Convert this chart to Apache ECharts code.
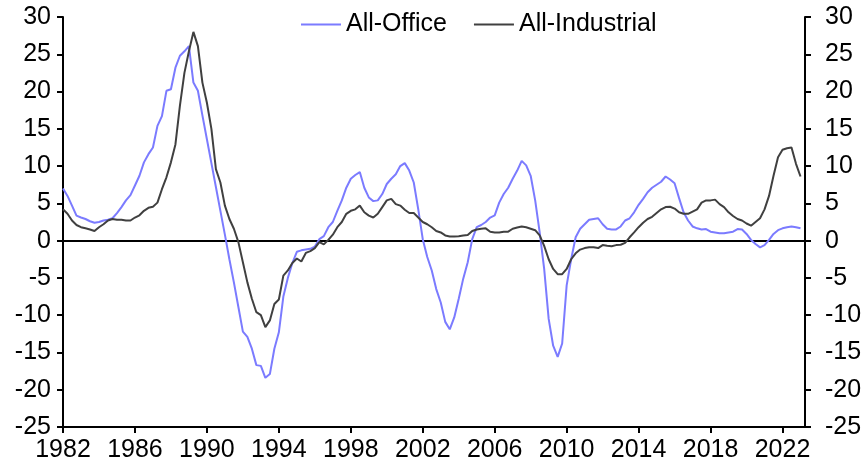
<!DOCTYPE html>
<html>
<head>
<meta charset="utf-8">
<script src="https://cdn.jsdelivr.net/npm/echarts@6/dist/echarts.min.js"></script>
<style>html,body{margin:0;padding:0;background:#fff}#c{width:866px;height:471px}</style>
</head>
<body>
<div id="c"></div>
<script>
// Quarterly data, first point 1982 Q1, last point 2023 Q1
const startYear = 1982;
const officeValues = [
  7.0, 6.0, 4.7, 3.35,
  3.1, 2.9, 2.6, 2.4,
  2.5, 2.7, 2.8, 3.0,
  3.7, 4.5, 5.4, 6.1,
  7.4, 8.7, 10.5, 11.6,
  12.5, 15.4, 16.7, 20.1,
  20.3, 23.2, 24.8, 25.4,
  26.1, 21.2, 20.1, 16.8,
  13.6, 10.4, 7.2, 4.0,
  0.8, -2.5, -5.6, -8.9,
  -12.2, -12.9, -14.5, -16.7,
  -16.8, -18.4, -17.9, -14.5,
  -12.3, -7.5, -5.0, -3.0,
  -1.5, -1.3, -1.2, -1.1,
  -0.8, 0.2, 0.6, 1.8,
  2.5, 4.0, 5.4, 7.1,
  8.3, 8.8, 9.2, 7.1,
  5.8, 5.3, 5.4, 6.25,
  7.6, 8.3, 8.9, 10.0,
  10.4, 9.4, 7.8, 4.2,
  0.2, -2.2, -4.0, -6.5,
  -8.3, -10.9, -11.9, -10.3,
  -7.8, -5.1, -2.9, 0.2,
  1.8, 2.1, 2.5, 3.1,
  3.4, 5.1, 6.25, 7.1,
  8.3, 9.4, 10.7, 10.1,
  8.7, 5.4, 1.1, -3.8,
  -10.5, -14.1, -15.6, -13.8,
  -6.0, -2.5, 0.45, 1.6,
  2.2, 2.8, 2.9, 3.0,
  2.2, 1.6, 1.5, 1.5,
  1.9, 2.7, 3.0, 3.8,
  4.8, 5.6, 6.5, 7.1,
  7.5, 7.9, 8.6, 8.2,
  7.7, 5.7, 3.8, 2.7,
  1.9, 1.65, 1.5, 1.55,
  1.2, 1.1, 1.0, 1.0,
  1.1, 1.2, 1.55, 1.5,
  0.9, 0.1, -0.45, -0.9,
  -0.6, 0.1, 0.9, 1.4,
  1.65, 1.8, 1.9, 1.8,
  1.65
];
const industrialValues = [
  4.2, 3.6, 2.7, 2.1,
  1.8, 1.65, 1.5, 1.3,
  1.8, 2.2, 2.7, 2.9,
  2.8, 2.8, 2.7, 2.7,
  3.1, 3.4, 4.0, 4.4,
  4.55, 5.1, 6.9, 8.5,
  10.5, 12.9, 18.1, 22.5,
  25.4, 28.0, 26.1, 21.2,
  18.5, 15.0, 9.6, 7.8,
  4.7, 2.9, 1.6, -0.2,
  -2.9, -5.6, -7.8, -9.6,
  -10.0, -11.6, -10.7, -8.5,
  -7.9, -4.7, -4.0, -3.0,
  -2.4, -2.8, -1.65, -1.4,
  -1.0, -0.2, -0.5, 0.1,
  0.8, 1.8, 2.5, 3.6,
  4.0, 4.2, 4.7, 3.8,
  3.35, 3.1, 3.6, 4.5,
  5.4, 5.6, 4.9, 4.7,
  4.15, 3.7, 3.7, 3.1,
  2.5, 2.2, 1.8, 1.3,
  1.1, 0.7, 0.55, 0.55,
  0.6, 0.7, 0.75, 1.3,
  1.5, 1.6, 1.65, 1.2,
  1.1, 1.1, 1.2, 1.2,
  1.6, 1.75, 1.9, 1.8,
  1.6, 1.4, 0.7, -0.7,
  -2.5, -3.8, -4.5, -4.5,
  -3.8, -2.5, -1.7, -1.2,
  -1.0, -0.9, -0.9, -1.0,
  -0.6, -0.7, -0.75, -0.6,
  -0.55, -0.3, 0.45, 1.1,
  1.8, 2.4, 2.9, 3.2,
  3.7, 4.2, 4.5, 4.55,
  4.3, 3.8, 3.6, 3.6,
  3.9, 4.2, 5.1, 5.4,
  5.4, 5.5, 4.9, 4.5,
  3.8, 3.3, 2.9, 2.7,
  2.3, 2.0, 2.5, 3.0,
  4.2, 6.0, 8.7, 11.2,
  12.2, 12.4, 12.5, 10.3,
  8.6
];
const xTickLabels = [1982, 1986, 1990, 1994, 1998, 2002, 2006, 2010, 2014, 2018, 2022];
const yTickLabels = [-25, -20, -15, -10, -5, 0, 5, 10, 15, 20, 25, 30];
const seriesNames = ['All-Office', 'All-Industrial'];

const toPairs = vals => vals.map((v, i) => [startYear + i / 4, v]);
const FONT = 'Arial, "Liberation Sans", sans-serif';
const black = '#000';

function yAxis(pos) {
  return {
    type: 'value', position: pos,
    min: yTickLabels[0], max: yTickLabels[yTickLabels.length - 1], interval: 5,
    axisLine: {show: true, lineStyle: {color: black, width: 2}},
    axisTick: {show: true, length: 6, lineStyle: {color: black, width: 2}},
    axisLabel: {fontSize: 25, color: black, fontFamily: FONT, margin: pos === 'left' ? 12 : 20,
                align: pos === 'left' ? 'right' : 'left'},
    splitLine: {show: false}
  };
}

const chart = echarts.init(document.getElementById('c'), null, {renderer: 'canvas'});
chart.setOption({
  animation: false,
  backgroundColor: '#fff',
  legend: {
    top: 7, left: 296, itemWidth: 40, itemHeight: 2, itemGap: 27, icon: 'rect',
    textStyle: {fontSize: 25, color: black, fontFamily: FONT},
    data: seriesNames
  },
  grid: {left: 63, right: 61, top: 17, bottom: 44, containLabel: false},
  xAxis: {
    type: 'value', min: 1982, max: 2023.25,
    axisLine: {show: true, onZero: false, lineStyle: {color: black, width: 2}},
    axisTick: {show: true, length: 6, customValues: xTickLabels, lineStyle: {color: black, width: 2}},
    axisLabel: {customValues: xTickLabels, fontSize: 25, color: black, fontFamily: FONT, margin: 11,
                formatter: v => String(v)},
    splitLine: {show: false}
  },
  yAxis: [yAxis('left'), yAxis('right')],
  series: [
    {
      name: seriesNames[0], type: 'line', yAxisIndex: 0, symbol: 'none',
      data: toPairs(officeValues), color: '#7B7BFF',
      lineStyle: {color: '#7B7BFF', width: 2}, z: 3,
      markLine: {
        silent: true, symbol: ['none', 'none'], label: {show: false},
        lineStyle: {color: black, width: 2, type: 'solid'},
        data: [{yAxis: 0}], z: 1
      }
    },
    {
      name: seriesNames[1], type: 'line', yAxisIndex: 0, symbol: 'none',
      data: toPairs(industrialValues), color: '#404040',
      lineStyle: {color: '#404040', width: 2}, z: 4
    }
  ]
});
</script>
</body>
</html>
